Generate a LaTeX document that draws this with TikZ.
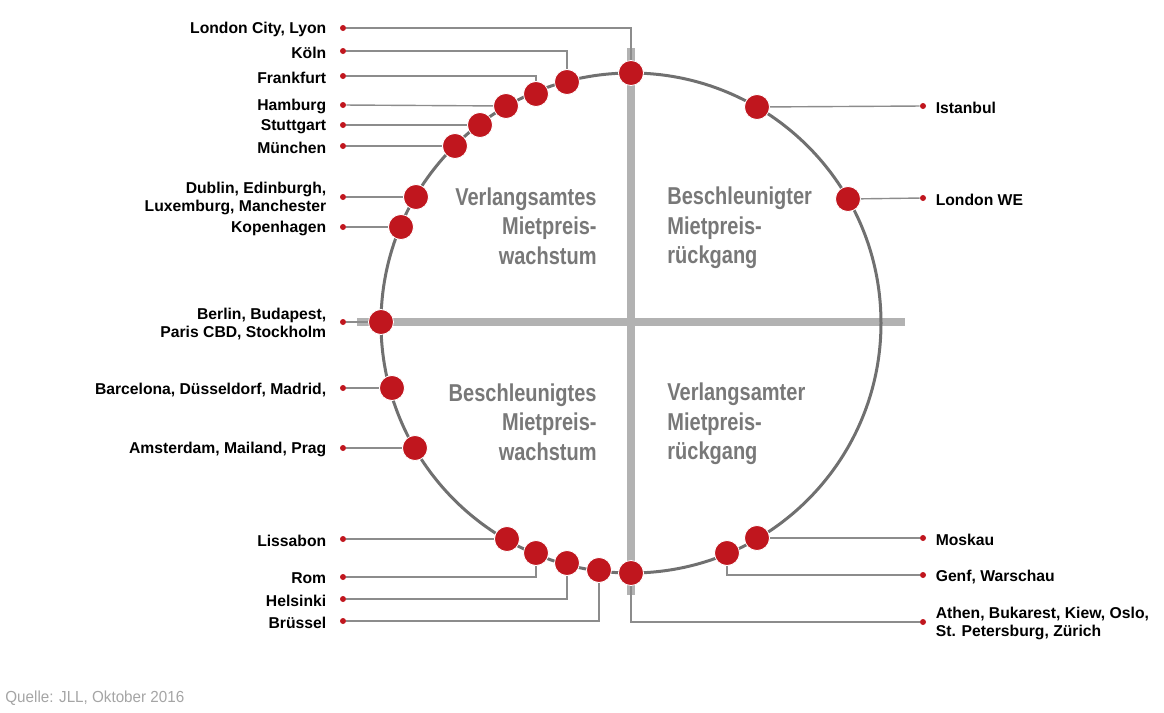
\documentclass[tikz,border=0pt]{standalone}
\usepackage{fontspec}
\usetikzlibrary{positioning}
\setmainfont{Liberation Sans}
\newfontfamily\schmal[FakeStretch=0.82]{Liberation Sans}
\newfontfamily\quelle[FakeStretch=0.95]{Liberation Sans}
\definecolor{rot}{RGB}{192,22,30}
\definecolor{kreisgrau}{RGB}{112,112,112}
\definecolor{balkengrau}{RGB}{178,178,178}
\definecolor{liniengrau}{RGB}{140,140,140}
\definecolor{textgrau}{RGB}{120,120,120}
\definecolor{quellgrau}{RGB}{165,165,165}

\begin{document}
\begin{tikzpicture}[x=0.5pt,y=-0.5pt]
    \tikzstyle{balken}=[line width=4pt,balkengrau]
    \tikzstyle{kreis}=[line width=1.5pt,kreisgrau]
    \tikzstyle{linie}=[line width=0.7pt,liniengrau]
\tikzset{punkt/.style={circle,fill=rot,draw=white,line width=0.4pt,minimum size=12.5pt,inner sep=0pt},
pin/.style={circle,fill=rot,minimum size=3pt,inner sep=0pt},
stadt/.style={font=\bfseries\fontsize{7.85}{9}\selectfont,inner sep=0pt,yshift=-0.8pt},
links/.style={stadt,anchor=east,align=right},
rechts/.style={stadt,anchor=west,align=left},
feld/.style={font=\schmal\bfseries\fontsize{12.2}{14.75}\selectfont,text=textgrau,inner sep=0pt}}
\useasboundingbox (0,0) rectangle (1164,713);

\draw[balken] (631,48) -- (631,595);
\draw[balken] (357,322) -- (905,322);
\draw[kreis] (631,323) circle (125pt);

\node[feld,anchor=east,align=right] (verl-wachs) at (597,226) {Verlangsamtes\\Mietpreis-\\wachstum};
\node[feld,anchor=west,align=left] (beschl-rueck) at (667,228) {Beschleunigter\\Mietpreis-\\rückgang};
\node[feld,anchor=east,align=right] (beschl-wachs) at (597,422) {Beschleunigtes\\Mietpreis-\\wachstum};
\node[feld,anchor=west,align=left] (verl-rueck) at (667,424) {Verlangsamter\\Mietpreis-\\rückgang};

\node[punkt] (lyon) at (631,73){};
\node[punkt] (koeln) at (567,82){};
\node[punkt] (frankfurt) at (536,94){};
\node[punkt] (hamburg) at (506,106){};
\node[punkt] (stuttgart) at (480,125){};
\node[punkt] (muenchen) at (455,146){};
\node[punkt] (dublin) at (416,197){};
\node[punkt] (kopenhagen) at (401,227){};
\node[punkt] (berlin) at (381,322){};
\node[punkt] (barcelona) at (392,388){};
\node[punkt] (amsterdam) at (415,448){};
\node[punkt] (lissabon) at (507,539){};
\node[punkt] (rom) at (536,553){};
\node[punkt] (helsinki) at (567,563){};
\node[punkt] (bruessel) at (599,570){};
\node[punkt] (athen) at (631,573){};
\node[punkt] (genf) at (727,553){};
\node[punkt] (moskau) at (757,538){};
\node[punkt] (londonwe) at (848,199){};
\node[punkt] (istanbul) at (757,107){};

\node[pin] (lyon-pin) at (343,28){};
\node[pin] (koeln-pin) at (343,51){};
\node[pin] (frankfurt-pin) at (343,76){};
\node[pin] (hamburg-pin) at (343,105){};
\node[pin] (stuttgart-pin) at (343,125){};
\node[pin] (muenchen-pin) at (343,146){};
\node[pin] (dublin-pin) at (343,197){};
\node[pin] (kopenhagen-pin) at (343,227){};
\node[pin] (berlin-pin) at (343,322){};
\node[pin] (barcelona-pin) at (343,388){};
\node[pin] (amsterdam-pin) at (343,448){};
\node[pin] (lissabon-pin) at (343,539){};
\node[pin] (rom-pin) at (343,577){};
\node[pin] (helsinki-pin) at (343,599){};
\node[pin] (bruessel-pin) at (343,621){};
\node[pin] (istanbul-pin) at (923,106){};
\node[pin] (londonwe-pin) at (923,198){};
\node[pin] (moskau-pin) at (923,538){};
\node[pin] (genf-pin) at (923,575){};
\node[pin] (athen-pin) at (923,622){};

\node[links,left=6.5pt of lyon-pin] (lyon-txt) {London City, Lyon};
\node[links,left=6.5pt of koeln-pin] (koeln-txt) {Köln};
\node[links,left=6.5pt of frankfurt-pin] (frankfurt-txt) {Frankfurt};
\node[links,left=6.5pt of hamburg-pin] (hamburg-txt) {Hamburg};
\node[links,left=6.5pt of stuttgart-pin] (stuttgart-txt) {Stuttgart};
\node[links,left=6.5pt of muenchen-pin] (muenchen-txt) {München};
\node[links,left=6.5pt of dublin-pin] (dublin-txt) {Dublin, Edinburgh,\\Luxemburg, Manchester};
\node[links,left=6.5pt of kopenhagen-pin] (kopenhagen-txt) {Kopenhagen};
\node[links,left=6.5pt of berlin-pin] (berlin-txt) {Berlin, Budapest,\\Paris CBD, Stockholm};
\node[links,left=6.5pt of barcelona-pin] (barcelona-txt) {Barcelona, Düsseldorf, Madrid,};
\node[links,left=6.5pt of amsterdam-pin] (amsterdam-txt) {Amsterdam, Mailand, Prag};
\node[links,left=6.5pt of lissabon-pin] (lissabon-txt) {Lissabon};
\node[links,left=6.5pt of rom-pin] (rom-txt) {Rom};
\node[links,left=6.5pt of helsinki-pin] (helsinki-txt) {Helsinki};
\node[links,left=6.5pt of bruessel-pin] (bruessel-txt) {Brüssel};
\node[rechts,right=4.5pt of istanbul-pin] (istanbul-txt) {Istanbul};
\node[rechts,right=4.5pt of londonwe-pin] (londonwe-txt) {London WE};
\node[rechts,right=4.5pt of moskau-pin] (moskau-txt) {Moskau};
\node[rechts,right=4.5pt of genf-pin] (genf-txt) {Genf, Warschau};
\node[rechts,right=4.5pt of athen-pin] (athen-txt) {Athen, Bukarest, Kiew, Oslo,\\St. Petersburg, Zürich};

\draw[linie] (lyon-pin) -| (lyon);
\draw[linie] (koeln-pin) -| (koeln);
\draw[linie] (frankfurt-pin) -| (frankfurt);
\draw[linie] (hamburg-pin) -- (hamburg);
\draw[linie] (stuttgart-pin) -- (stuttgart);
\draw[linie] (muenchen-pin) -- (muenchen);
\draw[linie] (dublin-pin) -- (dublin);
\draw[linie] (kopenhagen-pin) -- (kopenhagen);
\draw[linie] (berlin-pin) -- (berlin);
\draw[linie] (barcelona-pin) -- (barcelona);
\draw[linie] (amsterdam-pin) -- (amsterdam);
\draw[linie] (lissabon-pin) -- (lissabon);
\draw[linie] (rom-pin) -| (rom);
\draw[linie] (helsinki-pin) -| (helsinki);
\draw[linie] (bruessel-pin) -| (bruessel);
\draw[linie] (istanbul-pin) -- (istanbul);
\draw[linie] (londonwe-pin) -- (londonwe);
\draw[linie] (moskau-pin) -- (moskau);
\draw[linie] (genf-pin) -| (genf);
\draw[linie] (athen-pin) -| (athen);

\node[anchor=west,inner sep=0pt,font=\quelle\fontsize{8}{9}\selectfont,text=quellgrau] (quelle) at (5,698) {Quelle: JLL, Oktober 2016};
\end{tikzpicture}
\end{document}
